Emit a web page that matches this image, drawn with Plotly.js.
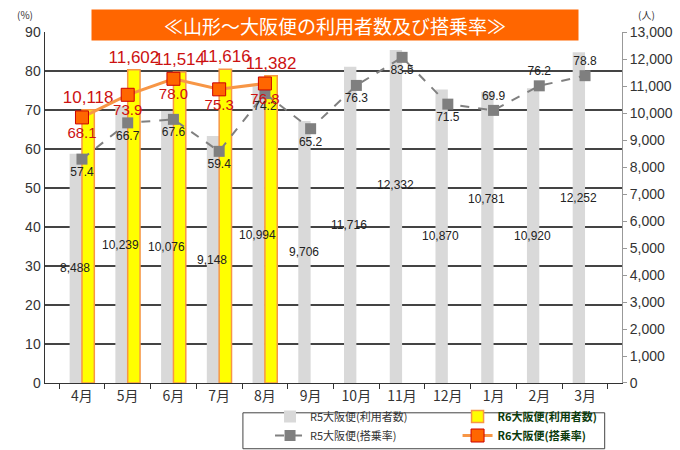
<!DOCTYPE html>
<html>
<head>
<meta charset="utf-8">
<script src="https://cdn.plot.ly/plotly-3.0.1.min.js"></script>
<style>html,body{margin:0;padding:0;background:#fff;}#chart{width:680px;height:450px;}</style>
</head>
<body>
<div id="chart"></div>
<script>
// ---- data ----
var months = ['4月','5月','6月','7月','8月','9月','10月','11月','12月','1月','2月','3月'];
var r5Count = [8488,10239,10076,9148,10994,9706,11716,12332,10870,10781,10920,12252];
var r6Count = [10118,11602,11514,11616,11382,null,null,null,null,null,null,null];
var r5Rate = [57.4,66.7,67.6,59.4,74.2,65.2,76.3,83.5,71.5,69.9,76.2,78.8];
var r6Rate = [68.1,73.9,78.0,75.3,76.8,null,null,null,null,null,null,null];
var names = ['R5大阪便(利用者数)','R6大阪便(利用者数)','R5大阪便(搭乗率)','R6大阪便(搭乗率)'];

// ---- style helpers ----
var FONT = 'Liberation Sans, Arial, Noto Sans CJK JP, sans-serif';
var JP = 'Noto Sans CJK JP, sans-serif';
function fmt(v){ return v.toLocaleString('en-US'); }
// label nudges (pixels) for the R5 count labels
var r5LabelShift = [0,0,0,0,0,0,0,32,0,38,0,20];
// R5 rate label placement per point
var r5RatePos = months.map(function(m,i){ return (i>=9) ? 'top center' : 'bottom center'; });

var traces = [
  {type:'bar', name:names[0], x:months, y:r5Count, yaxis:'y',
   marker:{color:'#d9d9d9', line:{width:0}}, legend:'legend', hoverinfo:'skip'},
  {type:'bar', name:names[1], x:months, y:r6Count, yaxis:'y',
   marker:{color:'#ffff00', line:{color:'#f79646', width:1.5}},
   text:r6Count.map(function(v){return v==null?'':fmt(v);}),
   textposition:'outside', constraintext:'none', cliponaxis:false,
   textfont:{color:'#cc1111', size:17, family:FONT}, legend:'legend2', hoverinfo:'skip'},
  {type:'scatter', mode:'lines+markers+text', name:names[2], x:months, y:r5Rate, yaxis:'y2',
   line:{color:'#808080', width:2, dash:'dash'},
   marker:{symbol:'square', size:11, color:'#7f7f7f'},
   text:r5Rate.map(function(v){return v.toFixed(1);}), textposition:r5RatePos,
   textfont:{color:'#222', size:12, family:FONT}, cliponaxis:false, legend:'legend'},
  {type:'scatter', mode:'lines+markers+text', name:names[3], x:months, y:r6Rate, yaxis:'y2',
   line:{color:'#f79646', width:3},
   marker:{symbol:'square', size:13, color:'#ff6600', line:{color:'#cc0000', width:1}},
   text:r6Rate.map(function(v){return v==null?'':v.toFixed(1);}), textposition:'bottom center',
   textfont:{color:'#cc1111', size:15, family:FONT}, cliponaxis:false, legend:'legend2'}
];

var annotations = [
  {text:'≪山形～大阪便の利用者数及び搭乗率≫', xref:'paper', yref:'paper', x:0.5026, y:1.0167,
   xanchor:'center', yanchor:'middle', showarrow:false, bgcolor:'#ff6600', width:484, height:28, borderpad:1,
   font:{color:'#ffffff', size:19, family:JP}},
  {text:'(%)', xref:'paper', yref:'paper', x:-0.035, y:1.043, showarrow:false, xanchor:'center', yanchor:'middle',
   font:{size:10, color:'#333', family:JP}},
  {text:'(人)', xref:'paper', yref:'paper', x:1.042, y:1.043, showarrow:false, xanchor:'center', yanchor:'middle',
   font:{size:10, color:'#333', family:JP}}
];
r5Count.forEach(function(v,i){
  annotations.push({text:fmt(v), x:months[i], y:v/2, xref:'x', yref:'y', showarrow:false,
    xshift:-7, yshift:r5LabelShift[i], font:{size:12, color:'#222', family:FONT}});
});

var DOM = [0.1603, 1];
var layout = {
  width:680, height:450,
  margin:{l:45, r:58, t:32, b:0},
  paper_bgcolor:'#ffffff', plot_bgcolor:'rgba(0,0,0,0)',
  font:{family:FONT, color:'#333'},
  barmode:'group', bargap:0.46, bargroupgap:0,
  showlegend:true,
  xaxis:{type:'category', anchor:'y', showline:true, linecolor:'#333', linewidth:1.5, ticks:'outside', tickson:'boundaries',
    ticklen:5, tickcolor:'#333', showgrid:false, tickfont:{size:14, color:'#333', family:JP}, automargin:false},
  // counts (right side)
  yaxis:{domain:DOM, range:[0,13000], dtick:1000, side:'right', showgrid:false, zeroline:false,
    showline:true, linecolor:'#999', linewidth:1, ticks:'outside', ticklen:4, tickcolor:'#999',
    tickformat:',d', tickfont:{size:14, color:'#333'}, automargin:false},
  // rates (left side)
  yaxis2:{domain:DOM, range:[0,90], dtick:10, overlaying:'y', side:'left', showline:true, linecolor:'#333', linewidth:1.5, ticks:'',
    showgrid:true, gridcolor:'#444', gridwidth:1.5, zeroline:false, tickfont:{size:14, color:'#333'}, automargin:false},
  legend:{x:0.39, y:0, xanchor:'left', yanchor:'bottom', orientation:'v',
    bgcolor:'rgba(0,0,0,0)', font:{size:11, color:'#333', family:JP}, tracegroupgap:0},
  legend2:{x:0.715, y:0, xanchor:'left', yanchor:'bottom', orientation:'v',
    bgcolor:'rgba(0,0,0,0)', font:{size:11, color:'#0b3a0b', family:JP, weight:'bold'}, tracegroupgap:0},
  shapes:[{type:'rect', xref:'paper', yref:'paper', x0:0.343, x1:0.97, y0:0.003, y1:0.089,
    line:{color:'#444', width:1}, fillcolor:'rgba(0,0,0,0)'}],
  annotations:annotations
};

Plotly.newPlot('chart', traces, layout, {displayModeBar:false, staticPlot:true});
</script>
</body>
</html>
